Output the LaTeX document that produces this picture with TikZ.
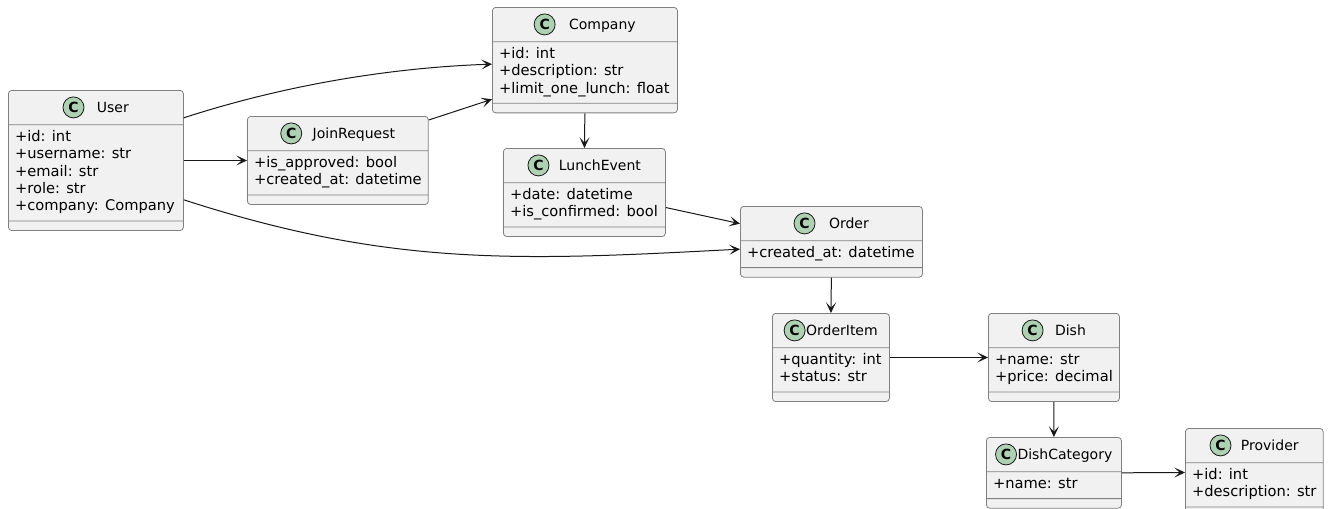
\documentclass[tikz,border=0pt]{standalone}
\usepackage{fontspec}
\setmainfont{DejaVu Sans}
\usetikzlibrary{positioning,arrows.meta,shapes.multipart}

\definecolor{classbg}{HTML}{F1F1F1}
\definecolor{classline}{HTML}{181818}
\definecolor{iconbg}{HTML}{ADD1B2}

% title row: strut for the header height, room for the (C) icon
\newcommand{\ctitle}[2]{\rule[-5.75pt]{0pt}{18.5pt}\hspace*{#1}{\fontsize{10.5pt}{13pt}\selectfont #2}}
\newcommand{\attrs}[1]{\begin{tabular}{@{}l@{}}#1\end{tabular}}
% empty method row
\newcommand{\nomethods}{\rule{0.1pt}{0pt}}

\begin{document}
\begin{tikzpicture}[x=0.75pt, y=0.75pt,
  >={Stealth[length=8pt, width=7.5pt, inset=4pt]},
  classbox/.style={rectangle split, rectangle split parts=3,
    rectangle split ignore empty parts=false,
    rectangle split part align={center,left,left},
    draw=classline!55, fill=classbg, line width=0.6pt, rounded corners=2.5pt,
    inner xsep=5pt, inner ysep=3.3pt, anchor=north west,
    font=\fontsize{11pt}{13pt}\selectfont},
  cicon/.style={circle, draw=classline, fill=iconbg, line width=0.6pt,
    minimum size=15.75pt, inner sep=0pt, font=\fontsize{10.5pt}{10.5pt}\selectfont\bfseries},
  conn/.style={->, draw=classline, line width=0.75pt}]
  \useasboundingbox (0,0) rectangle (1331,-508);

  \node[classbox, minimum width=131.25pt] (user) at (8,-90)
    {\ctitle{25.5pt}{User}\nodepart{two}\attrs{+id: int\\+username: str\\+email: str\\+role: str\\+company: Company}\nodepart{three}\nomethods};
  \node[classbox, minimum width=135pt] (join) at (247,-116)
    {\ctitle{24pt}{JoinRequest}\nodepart{two}\attrs{+is\_approved: bool\\+created\_at: datetime}\nodepart{three}\nomethods};
  \node[classbox, minimum width=138.75pt] (company) at (492,-7)
    {\ctitle{26.25pt}{Company}\nodepart{two}\attrs{+id: int\\+description: str\\+limit\_one\_lunch: float}\nodepart{three}\nomethods};
  \node[classbox, minimum width=121.5pt] (lunch) at (503,-148)
    {\ctitle{23.25pt}{LunchEvent}\nodepart{two}\attrs{+date: datetime\\+is\_confirmed: bool}\nodepart{three}\nomethods};
  \node[classbox, minimum width=136.5pt] (order) at (740,-206)
    {\ctitle{26.25pt}{Order}\nodepart{two}\attrs{+created\_at: datetime}\nodepart{three}\nomethods};
  \node[classbox, minimum width=87.75pt] (item) at (772,-313)
    {\ctitle{16.5pt}{OrderItem}\nodepart{two}\attrs{+quantity: int\\+status: str}\nodepart{three}\nomethods};
  \node[classbox, minimum width=97.5pt] (dish) at (988,-313)
    {\ctitle{24.75pt}{Dish}\nodepart{two}\attrs{+name: str\\+price: decimal}\nodepart{three}\nomethods};
  \node[classbox, minimum width=101.25pt] (dishcat) at (986,-437)
    {\ctitle{16.5pt}{DishCategory}\nodepart{two}\attrs{+name: str}\nodepart{three}\nomethods};
  \node[classbox, minimum width=99.75pt] (provider) at (1185,-428)
    {\ctitle{23.25pt}{Provider}\nodepart{two}\attrs{+id: int\\+description: str}\nodepart{three}\nomethods};

  % class icons
  \foreach \c in {user,join,company,lunch,order,item,dish,dishcat,provider}
    \node[cicon] (\c-icon) at ([xshift=7.9pt, yshift=3.6pt]\c.text) {C};

  \draw[conn] ([yshift=32pt]user.east) to[out=18, in=182, looseness=0.85] ([yshift=-3pt]company.west);
  \draw[conn] (user.east) -- (join.west);
  \draw[conn] ([yshift=-29.5pt]user.east) to[out=-18, in=183] ([yshift=-5.5pt]order.west);
  \draw[conn] ([yshift=-3pt]join.north east) -- ([yshift=10.5pt]company.south west);
  \draw[conn] (company.south) -- (lunch.north);
  \draw[conn] ([yshift=-11.3pt]lunch.east) -- ([yshift=13.6pt]order.west);
  \draw[conn] (order.south) -- (item.north);
  \draw[conn] (item.east) -- (dish.west);
  \draw[conn] (dish.south) -- (dishcat.north);
  \draw[conn] (dishcat.east) -- (provider.west);
\end{tikzpicture}
\end{document}
